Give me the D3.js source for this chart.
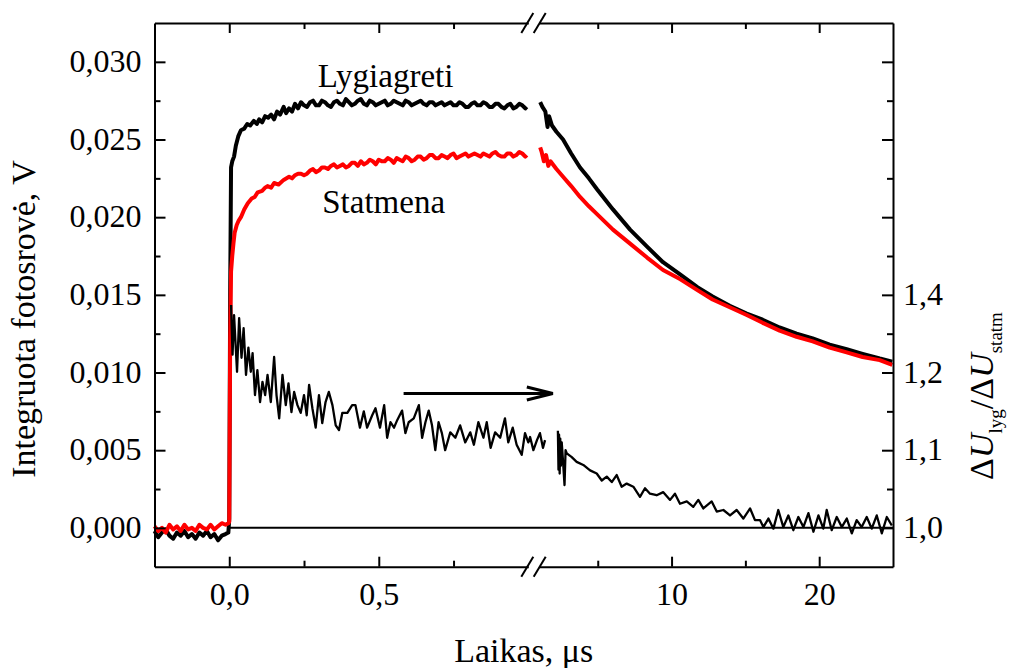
<!DOCTYPE html>
<html><head><meta charset="utf-8">
<script src="https://cdn.jsdelivr.net/npm/d3@7"></script>
<style>
body{margin:0;background:#fff;}
svg{display:block;}
svg text{font-family:"Liberation Serif","Tinos","Times New Roman","DejaVu Serif",serif !important;}
</style></head><body>
<svg id="chart" width="1009" height="668"></svg>
<script>
// ---------- data (time in µs, photovoltage in V, ratio dimensionless) ----------
const lygLeft = [[-0.25,-0.0002],[-0.2375,-0.0006],[-0.225,-0.0003],[-0.2125,-0.0001],[-0.2,-0.0005],[-0.1875,-0.0007],[-0.175,-0.0003],[-0.1625,-0.0005],[-0.15,-0.0002],[-0.1375,-0.0006],[-0.125,-0.0004],[-0.1125,-0.0007],[-0.1,-0.0003],[-0.0875,-0.0005],[-0.075,-0.0002],[-0.0625,-0.0006],[-0.05,-0.0004],[-0.0375,-0.0008],[-0.025,-0.0005],[-0.0125,-0.0004],[-0.003,-0.0003],
[0.0,0.0006],[0.003,0.0150],[0.006,0.0232],[0.010,0.0236],[0.016,0.0239],[0.022,0.0246],[0.030,0.0252],[0.039,0.0256],[0.05,0.0257],[0.06,0.0260],[0.07,0.0259],[0.082,0.0262],[0.092,0.0260],[0.1,0.0263],[0.11,0.0261],[0.12,0.0265],[0.13,0.0264],[0.14,0.0266],[0.15,0.0263],[0.16,0.0268],[0.17,0.0266],[0.182,0.0271],[0.19,0.0267],[0.2,0.0270],[0.21,0.0268],[0.22,0.0273],[0.23,0.0270],[0.24,0.0274],[0.25,0.0272],[0.26,0.0271],[0.27,0.0274],[0.28,0.0275],[0.29,0.0272],[0.3,0.0272],[0.31,0.0275],[0.32,0.0274],[0.33,0.0272],[0.34,0.0271],[0.35,0.0274],[0.36,0.0275],[0.37,0.0273],[0.38,0.0272],[0.39,0.0276],[0.4,0.0274],[0.41,0.0272],[0.42,0.0273],[0.43,0.0275],[0.44,0.0276],[0.45,0.0273],[0.46,0.0272],[0.47,0.0275],[0.48,0.0274],[0.49,0.0272],[0.5,0.0273],[0.51,0.0274],[0.52,0.0275],[0.53,0.0272],[0.54,0.0273],[0.55,0.0275],[0.56,0.0274],[0.57,0.0273],[0.58,0.0272],[0.59,0.0275],[0.6,0.0274],[0.61,0.0272],[0.62,0.0273],[0.63,0.0274],[0.64,0.0275],[0.65,0.0273],[0.66,0.0272],[0.67,0.0274],[0.68,0.0274],[0.69,0.0272],[0.7,0.0273],[0.71,0.0274],[0.72,0.0272],[0.73,0.0273],[0.74,0.0274],[0.75,0.0272],[0.76,0.0272],[0.77,0.0274],[0.78,0.0273],[0.79,0.0271],[0.8,0.0271],[0.81,0.0273],[0.82,0.0274],[0.83,0.0272],[0.84,0.0272],[0.85,0.0274],[0.86,0.0273],[0.87,0.0271],[0.88,0.0271],[0.89,0.0273],[0.9,0.0273],[0.91,0.0271],[0.92,0.0270],[0.93,0.0272],[0.94,0.0273],[0.95,0.0270],[0.96,0.0271],[0.97,0.0273],[0.98,0.0272],[0.99,0.0270],[0.995,0.0271]];
const lygRight = [[1.1,0.0274],[1.25,0.0271],[1.45,0.0268],[1.6,0.0258],[1.7,0.0265],[1.9,0.0259],[2.2,0.0255],[2.65,0.0250],[3.2,0.0241],[3.8,0.0232],[4.4,0.0225],[4.95,0.0218],[6.03,0.0205],[7.19,0.0192],[8.34,0.0181],[9.42,0.0171],[10.6,0.0163],[11.75,0.0155],[12.78,0.0149],[13.94,0.0143],[15.09,0.0138],[16.17,0.0134],[17.32,0.0129],[18.47,0.0125],[19.56,0.0122],[20.71,0.0118],[21.86,0.0115],[22.94,0.0112],[24.1,0.0109],[24.95,0.0107]];
const statLeft = [[-0.25,0.0001],[-0.2375,-0.0002],[-0.225,0.0000],[-0.2125,-0.0003],[-0.2,0.0002],[-0.1875,-0.0001],[-0.175,0.0001],[-0.1625,-0.0002],[-0.15,0.0002],[-0.1375,-0.0001],[-0.125,0.0000],[-0.1125,-0.0002],[-0.1,0.0002],[-0.0875,0.0000],[-0.075,-0.0001],[-0.0625,0.0002],[-0.05,-0.0001],[-0.0375,0.0001],[-0.025,0.0003],[-0.0125,0.0002],[-0.003,0.0003],
[0.0,0.0004],[0.003,0.0120],[0.006,0.0165],[0.010,0.0175],[0.014,0.0183],[0.018,0.0190],[0.025,0.0195],[0.032,0.0198],[0.039,0.0200],[0.05,0.0205],[0.062,0.0209],[0.075,0.0212],[0.085,0.0213],[0.095,0.0216],[0.11,0.0217],[0.12,0.0219],[0.128,0.0220],[0.14,0.0219],[0.15,0.0222],[0.165,0.0221],[0.182,0.0224],[0.2,0.0226],[0.21,0.0225],[0.22,0.0227],[0.23,0.0228],[0.24,0.0228],[0.25,0.0227],[0.26,0.0228],[0.27,0.0230],[0.28,0.0231],[0.29,0.0229],[0.3,0.0230],[0.31,0.0232],[0.32,0.0232],[0.33,0.0231],[0.34,0.0233],[0.35,0.0234],[0.36,0.0232],[0.37,0.0233],[0.38,0.0234],[0.39,0.0232],[0.4,0.0233],[0.41,0.0235],[0.42,0.0235],[0.43,0.0233],[0.44,0.0236],[0.45,0.0234],[0.46,0.0235],[0.47,0.0237],[0.48,0.0236],[0.49,0.0234],[0.5,0.0237],[0.51,0.0236],[0.52,0.0236],[0.53,0.0238],[0.54,0.0237],[0.55,0.0235],[0.56,0.0238],[0.57,0.0237],[0.58,0.0236],[0.59,0.0239],[0.6,0.0238],[0.61,0.0236],[0.62,0.0237],[0.63,0.0239],[0.64,0.0239],[0.65,0.0237],[0.66,0.0238],[0.67,0.0240],[0.68,0.0240],[0.69,0.0238],[0.7,0.0238],[0.71,0.0240],[0.72,0.0239],[0.73,0.0238],[0.74,0.0240],[0.75,0.0241],[0.76,0.0238],[0.77,0.0239],[0.78,0.0240],[0.79,0.0241],[0.8,0.0239],[0.81,0.0240],[0.82,0.0241],[0.83,0.0240],[0.84,0.0239],[0.85,0.0241],[0.86,0.0240],[0.87,0.0239],[0.88,0.0241],[0.89,0.0242],[0.9,0.0240],[0.91,0.0239],[0.92,0.0239],[0.93,0.0241],[0.94,0.0241],[0.95,0.0239],[0.96,0.0240],[0.97,0.0242],[0.98,0.0241],[0.99,0.0239],[0.995,0.0240]];
const statRight = [[1.1,0.0245],[1.2,0.0242],[1.35,0.0236],[1.5,0.0240],[1.65,0.0233],[1.8,0.0236],[2.2,0.0231],[2.65,0.0226],[3.2,0.0220],[3.8,0.0213],[4.4,0.0207],[4.95,0.0202],[6.03,0.0192],[7.19,0.0183],[8.34,0.0174],[9.42,0.0166],[10.6,0.0160],[11.75,0.0153],[12.78,0.0147],[13.94,0.0142],[15.09,0.0137],[16.17,0.0132],[17.32,0.0127],[18.47,0.0123],[19.56,0.0120],[20.71,0.0116],[21.86,0.0113],[22.94,0.0110],[24.1,0.0108],[24.95,0.0105]];
const ratioLeft = [[0.006,1.287],[0.011,1.223],[0.016,1.274],[0.026,1.201],[0.033,1.270],[0.041,1.219],[0.048,1.257],[0.056,1.197],[0.064,1.232],[0.072,1.201],[0.078,1.225],[0.086,1.171],[0.094,1.203],[0.103,1.162],[0.111,1.188],[0.12,1.171],[0.128,1.197],[0.139,1.162],[0.150,1.220],[0.158,1.171],[0.167,1.141],[0.178,1.197],[0.189,1.158],[0.198,1.186],[0.208,1.149],[0.217,1.175],[0.228,1.158],[0.239,1.148],[0.25,1.171],[0.259,1.145],[0.267,1.184],[0.278,1.154],[0.289,1.129],[0.3,1.171],[0.311,1.135],[0.322,1.162],[0.333,1.175],[0.345,1.158],[0.356,1.132],[0.367,1.126],[0.378,1.148],[0.395,1.148],[0.411,1.158],[0.422,1.158],[0.437,1.129],[0.45,1.150],[0.461,1.129],[0.478,1.145],[0.489,1.154],[0.504,1.129],[0.518,1.158],[0.528,1.116],[0.539,1.136],[0.551,1.129],[0.562,1.139],[0.578,1.151],[0.589,1.122],[0.6,1.136],[0.617,1.141],[0.634,1.158],[0.645,1.116],[0.656,1.136],[0.667,1.151],[0.678,1.132],[0.689,1.100],[0.7,1.136],[0.711,1.122],[0.722,1.100],[0.739,1.123],[0.756,1.116],[0.772,1.132],[0.789,1.110],[0.806,1.123],[0.818,1.107],[0.833,1.136],[0.85,1.116],[0.861,1.136],[0.874,1.103],[0.889,1.123],[0.906,1.116],[0.922,1.141],[0.933,1.110],[0.948,1.129],[0.961,1.107],[0.978,1.094],[0.989,1.122],[1.0,1.110],[1.006,1.117],[1.017,1.100],[1.029,1.113],[1.039,1.122],[1.049,1.103],[1.056,1.113]];
const ratioRight = [[2.30,1.125],[2.34,1.075],[2.38,1.120],[2.42,1.070],[2.46,1.115],[2.50,1.080],[2.56,1.110],[2.65,1.085],[2.75,1.055],[2.82,1.100],[2.9,1.096],[3.24,1.091],[3.57,1.085],[4.02,1.081],[4.48,1.074],[4.93,1.070],[5.27,1.061],[5.61,1.066],[5.95,1.059],[6.28,1.068],[6.62,1.053],[6.96,1.057],[7.41,1.053],[7.86,1.040],[8.2,1.051],[8.54,1.044],[8.99,1.042],[9.44,1.046],[9.9,1.036],[10.23,1.044],[10.57,1.031],[11.03,1.034],[11.47,1.027],[11.81,1.036],[12.15,1.025],[12.72,1.034],[13.06,1.021],[13.51,1.023],[13.96,1.016],[14.41,1.023],[14.86,1.012],[15.32,1.025],[15.65,1.010],[15.99,1.010],[16.22,1.001],[16.56,1.012],[16.9,0.999],[17.23,1.023],[17.57,1.001],[17.91,1.016],[18.25,0.997],[18.59,1.014],[18.93,1.001],[19.27,1.019],[19.61,0.995],[19.95,1.016],[20.28,0.999],[20.51,1.023],[20.85,0.997],[21.19,1.014],[21.53,1.001],[21.87,1.012],[22.21,0.993],[22.54,1.010],[22.88,1.001],[23.22,1.014],[23.56,0.999],[23.9,1.016],[24.24,0.993],[24.58,1.014],[24.92,1.003]];
const ratioBaseline = [[0, 1.0], [25, 1.0]];

// axis ticks and labels
const leftTickValues = [0, 0.005, 0.010, 0.015, 0.020, 0.025, 0.030];
const leftTickLabels = ["0,000","0,005","0,010","0,015","0,020","0,025","0,030"];
const leftMinorTicks = [0.0025, 0.0075, 0.0125, 0.0175, 0.0225, 0.0275];
const rightTickValues = [1.0, 1.1, 1.2, 1.3, 1.4, 1.5, 1.6];
const rightTickLabels = ["1,0","1,1","1,2","1,4","","",""];
const rightMinorTicks = [1.05, 1.15, 1.25, 1.35, 1.45, 1.55];
const xLeftTicks = [0, 0.5];
const xLeftTickLabels = ["0,0", "0,5"];
const xLeftMinor = [0.25, 0.75];
const xRightTicks = [10, 20];
const xRightTickLabels = ["10", "20"];
const xRightMinor = [5, 15];

// annotations (in data units)
const labelLyg = {text: "Lygiagreti", t: 0.296, v: 0.0284};
const labelStat = {text: "Statmena", t: 0.311, v: 0.02028};
const arrowFrom = [0.583, 1.173];
const arrowTo = [1.082, 1.173];

// ---------- layout ----------
const FONT = "'Liberation Serif', Tinos, 'Times New Roman', 'DejaVu Serif', serif";
const svg = d3.select("#chart");
const P = {left: 154.5, right: 893, top: 23, bottom: 566.7, breakL: 528.3, breakR: 538.7};

const xL = d3.scaleLinear().domain([-0.25, 1.0]).range([P.left, P.breakL]);
const xR = d3.scaleLinear().domain([1, 25]).range([P.breakR, P.right]);
const yL = d3.scaleLinear().domain([-0.0025, 0.0325]).range([P.bottom, P.top]);
const yR = d3.scaleLinear().domain([0.95, 1.65]).range([P.bottom, P.top]);

const lineLL = d3.line().x(d => xL(d[0])).y(d => yL(d[1]));
const lineRL = d3.line().x(d => xR(d[0])).y(d => yL(d[1]));
const lineLR = d3.line().x(d => xL(d[0])).y(d => yR(d[1]));
const lineRR = d3.line().x(d => xR(d[0])).y(d => yR(d[1]));

// ---------- data lines ----------
const g = svg.append("g");
g.append("path").attr("d", lineLL(lygLeft)).attr("fill","none").attr("stroke","#000").attr("stroke-width",4).attr("stroke-linejoin","round");
g.append("path").attr("d", lineRL(lygRight)).attr("fill","none").attr("stroke","#000").attr("stroke-width",4).attr("stroke-linejoin","round");
g.append("path").attr("d", lineLL(statLeft)).attr("fill","none").attr("stroke","#ff0000").attr("stroke-width",4).attr("stroke-linejoin","round");
g.append("path").attr("d", lineRL(statRight)).attr("fill","none").attr("stroke","#ff0000").attr("stroke-width",4).attr("stroke-linejoin","round");
g.append("line")
  .attr("x1", xL(ratioBaseline[0][0])).attr("x2", xR(ratioBaseline[1][0]))
  .attr("y1", yR(ratioBaseline[0][1])).attr("y2", yR(ratioBaseline[1][1]))
  .attr("stroke","#000").attr("stroke-width",2);
g.append("path").attr("d", lineLR(ratioLeft)).attr("fill","none").attr("stroke","#000").attr("stroke-width",2.3).attr("stroke-linejoin","round");
g.append("path").attr("d", lineRR(ratioRight)).attr("fill","none").attr("stroke","#000").attr("stroke-width",2.3).attr("stroke-linejoin","round");

// ---------- axes ----------
function styleAxis(sel, fs){
  sel.attr("font-family", FONT).attr("font-size", fs);
  sel.selectAll("path.domain").attr("stroke","#000").attr("stroke-width",2);
  sel.selectAll(".tick line").attr("stroke","#000").attr("stroke-width",2);
  sel.selectAll(".tick text").attr("fill","#000").attr("font-family", FONT).attr("font-size", fs);
}
function fmtFrom(values, labels){ return d => { const i = values.findIndex(v => Math.abs(v - d) < 1e-9); return i >= 0 ? labels[i] : ""; }; }

const gl = svg.append("g").attr("transform", `translate(${P.left},0)`)
  .call(d3.axisLeft(yL).tickValues(leftTickValues).tickFormat(fmtFrom(leftTickValues, leftTickLabels)).tickSizeInner(-11).tickSizeOuter(0).tickPadding(13));
styleAxis(gl, 32);
gl.selectAll(".tick text").attr("dy","0.3em");
svg.append("g").attr("transform", `translate(${P.left},0)`)
  .call(d3.axisLeft(yL).tickValues(leftMinorTicks).tickFormat("").tickSizeInner(-6).tickSizeOuter(0))
  .call(s => { s.select(".domain").remove(); styleAxis(s, 32); });

const gr = svg.append("g").attr("transform", `translate(${P.right},0)`)
  .call(d3.axisRight(yR).tickValues(rightTickValues).tickFormat(fmtFrom(rightTickValues, rightTickLabels)).tickSizeInner(-11).tickSizeOuter(0).tickPadding(10));
styleAxis(gr, 32);
gr.selectAll(".tick text").attr("dy","0.3em");
svg.append("g").attr("transform", `translate(${P.right},0)`)
  .call(d3.axisRight(yR).tickValues(rightMinorTicks).tickFormat("").tickSizeInner(-6).tickSizeOuter(0))
  .call(s => { s.select(".domain").remove(); styleAxis(s, 32); });

[[xL, xLeftTicks, xLeftTickLabels, xLeftMinor], [xR, xRightTicks, xRightTickLabels, xRightMinor]].forEach(([sc, maj, lab, mnr]) => {
  const gb = svg.append("g").attr("transform", `translate(0,${P.bottom})`)
    .call(d3.axisBottom(sc).tickValues(maj).tickFormat(fmtFrom(maj, lab)).tickSizeInner(-10).tickSizeOuter(0).tickPadding(16));
  styleAxis(gb, 32);
  svg.append("g").attr("transform", `translate(0,${P.bottom})`)
    .call(d3.axisBottom(sc).tickValues(mnr).tickFormat("").tickSizeInner(-6).tickSizeOuter(0))
    .call(s => { s.select(".domain").remove(); styleAxis(s, 32); });
  const gt = svg.append("g").attr("transform", `translate(0,${P.top})`)
    .call(d3.axisTop(sc).tickValues(maj).tickFormat("").tickSizeInner(-10).tickSizeOuter(0));
  styleAxis(gt, 32);
  svg.append("g").attr("transform", `translate(0,${P.top})`)
    .call(d3.axisTop(sc).tickValues(mnr).tickFormat("").tickSizeInner(-6).tickSizeOuter(0))
    .call(s => { s.select(".domain").remove(); styleAxis(s, 32); });
});

// axis break marks
[P.top, P.bottom].forEach(yy => {
  [xL(1.0) - 1, xR(1) + 1].forEach(xx => {
    svg.append("line").attr("x1", xx - 6).attr("y1", yy + 10).attr("x2", xx + 6).attr("y2", yy - 10)
      .attr("stroke","#000").attr("stroke-width",2);
  });
});

// ---------- titles ----------
svg.append("text").attr("x", (P.left + P.right) / 2).attr("y", 662)
  .attr("text-anchor","middle").attr("font-size", 34).text("Laikas, μs");
svg.append("text").attr("transform", `translate(35,319) rotate(-90)`)
  .attr("text-anchor","middle").attr("font-size", 34).text("Integruota fotosrovė, V");

const rt = svg.append("text").attr("transform", `translate(993,396) rotate(-90)`)
  .attr("text-anchor","middle").attr("font-size", 34);
rt.append("tspan").text("Δ");
rt.append("tspan").attr("font-style","italic").text("U");
rt.append("tspan").attr("font-size", 19).attr("dy", 9).text("lyg");
rt.append("tspan").attr("dy", -9).text("/Δ");
rt.append("tspan").attr("font-style","italic").text("U");
rt.append("tspan").attr("font-size", 19).attr("dy", 9).text("statm");

svg.append("text").attr("x", xL(labelLyg.t)).attr("y", yL(labelLyg.v)).attr("font-size", 33).text(labelLyg.text);
svg.append("text").attr("x", xL(labelStat.t)).attr("y", yL(labelStat.v)).attr("font-size", 33).text(labelStat.text);

// arrow pointing to right axis
const ax1 = xL(arrowFrom[0]), ay = yR(arrowFrom[1]), ax2 = xL(arrowTo[0]);
svg.append("line").attr("x1", ax1).attr("y1", ay).attr("x2", ax2 - 2).attr("y2", ay).attr("stroke","#000").attr("stroke-width",3);
svg.append("path").attr("d", `M${ax2-26},${ay-6.5} L${ax2},${ay} L${ax2-26},${ay+6.5}`)
  .attr("fill","none").attr("stroke","#000").attr("stroke-width",3).attr("stroke-linejoin","miter");

svg.selectAll("text").attr("font-family", FONT).attr("fill", "#000");
</script>
</body></html>
